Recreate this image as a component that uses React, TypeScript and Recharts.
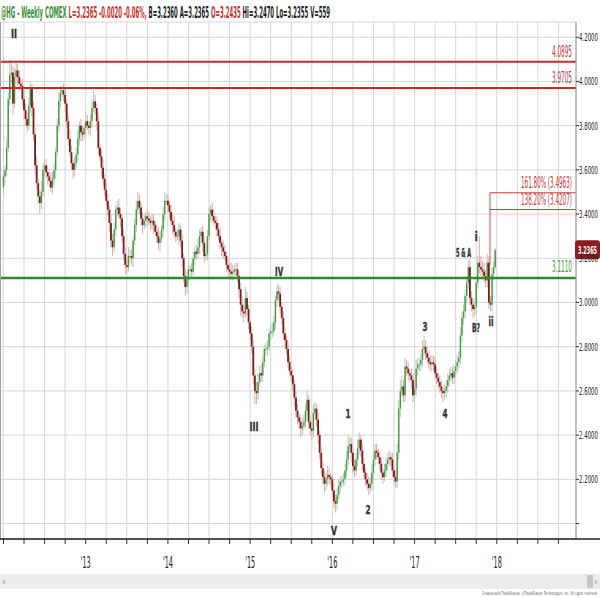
import React from 'react';
import { ComposedChart, Bar, XAxis, YAxis, CartesianGrid, ReferenceLine, Scatter } from 'recharts';

// ---- Weekly closes, one array per year ----
const closes2012 = [
  3.57, 3.60, 3.70, 3.92, 4.03, 4.04, 3.90, 4.02, 4.05, 4.02,
  3.99, 3.98, 3.92, 3.87, 3.83, 3.80, 3.89, 3.97, 3.88, 3.76,
  3.62, 3.54, 3.48, 3.45, 3.50, 3.60, 3.62, 3.59, 3.57, 3.55,
  3.52, 3.56, 3.60, 3.68, 3.80, 3.91, 3.95, 3.96, 3.94, 3.90,
  3.82, 3.74, 3.68, 3.63, 3.60, 3.63, 3.67, 3.74, 3.80, 3.77,
  3.76, 3.79,
];
const closes2013 = [
  3.82, 3.80, 3.79, 3.82, 3.88, 3.91, 3.88, 3.82, 3.70, 3.66,
  3.61, 3.56, 3.51, 3.46, 3.42, 3.36, 3.28, 3.25, 3.33, 3.42,
  3.43, 3.40, 3.38, 3.30, 3.22, 3.17, 3.16, 3.21, 3.21, 3.20,
  3.28, 3.35, 3.42, 3.46, 3.43, 3.38, 3.35, 3.37, 3.39, 3.38,
  3.37, 3.36, 3.37, 3.35, 3.32, 3.30, 3.27, 3.29, 3.33, 3.40,
  3.46, 3.46,
];
const closes2014 = [
  3.44, 3.41, 3.37, 3.35, 3.32, 3.30, 3.30, 3.33, 3.28, 3.20,
  3.12, 3.07, 3.10, 3.15, 3.15, 3.14, 3.20, 3.23, 3.22, 3.25,
  3.30, 3.32, 3.27, 3.21, 3.22, 3.30, 3.40, 3.42, 3.39, 3.37,
  3.36, 3.33, 3.30, 3.27, 3.25, 3.23, 3.21, 3.17, 3.15, 3.14,
  3.13, 3.14, 3.15, 3.15, 3.12, 3.06, 2.99, 2.96, 2.95, 3.02,
  2.97, 2.91,
];
const closes2015 = [
  2.86, 2.80, 2.67, 2.60, 2.59, 2.64, 2.68, 2.67, 2.73, 2.79,
  2.79, 2.80, 2.86, 2.87, 2.87, 2.91, 3.01, 3.05, 3.04, 2.98,
  2.93, 2.86, 2.83, 2.79, 2.73, 2.69, 2.67, 2.63, 2.57, 2.51,
  2.48, 2.46, 2.43, 2.44, 2.46, 2.51, 2.56, 2.46, 2.43, 2.42,
  2.50, 2.52, 2.47, 2.40, 2.32, 2.25, 2.21, 2.18, 2.20, 2.22,
  2.21, 2.20,
];
const closes2016 = [
  2.15, 2.10, 2.09, 2.13, 2.17, 2.19, 2.19, 2.20, 2.24, 2.29,
  2.35, 2.36, 2.32, 2.26, 2.24, 2.29, 2.34, 2.38, 2.33, 2.27,
  2.23, 2.20, 2.18, 2.16, 2.18, 2.23, 2.29, 2.33, 2.32, 2.30,
  2.27, 2.23, 2.21, 2.24, 2.27, 2.29, 2.30, 2.29, 2.24, 2.21,
  2.19, 2.32, 2.52, 2.60, 2.62, 2.58, 2.71, 2.70, 2.68, 2.67,
  2.65, 2.58,
];
const closes2017 = [
  2.61, 2.70, 2.72, 2.72, 2.74, 2.79, 2.80, 2.77, 2.75, 2.73,
  2.72, 2.73, 2.72, 2.68, 2.66, 2.64, 2.62, 2.60, 2.59, 2.60,
  2.62, 2.65, 2.67, 2.68, 2.66, 2.69, 2.71, 2.73, 2.75, 2.85,
  2.93, 2.96, 3.03, 3.09, 3.16, 3.02, 2.99, 2.97, 2.98, 3.09,
  3.18, 3.16, 3.15, 3.14, 3.12, 3.10, 3.18, 3.00, 2.99, 3.13,
  3.16, 3.2365,
];
const firstOpen = 3.52;

// ---- wick lengths above / below the body, in hundredths ----
const upperWicks2012 = [3,2,4,3,7,5,3,4,4,3, 3,2,3,4,3,3,4,3,2,3, 3,4,2,3,5,3,2,3,3,2, 4,3,3,2,3,4,3,2,3,3, 2,3,4,3,2,3,3,4,2,3, 3,2];
const lowerWicks2012 = [3,4,3,2,3,4,5,2,3,4, 3,2,3,4,3,3,2,3,4,3, 4,3,3,5,3,2,3,3,4,3, 2,3,3,4,2,3,3,2,3,4, 3,3,2,3,4,3,2,3,3,4, 3,2];
const upperWicks2013 = [4,3,2,3,4,5,3,2,3,2, 3,4,2,3,3,2,4,3,3,2, 3,4,3,2,3,3,2,4,3,3, 2,3,4,4,3,2,3,3,2,3, 3,2,3,3,2,3,4,3,2,3, 4,3];
const lowerWicks2013 = [3,2,3,4,3,2,3,4,3,2, 4,3,3,2,3,4,3,4,2,3, 3,2,4,3,3,4,3,2,3,3, 4,2,3,2,3,3,4,2,3,3, 2,3,3,4,2,3,3,4,2,3, 3,2];
const upperWicks2014 = [3,2,3,3,4,2,3,3,2,3, 2,3,4,3,2,3,3,2,3,4, 3,2,3,3,4,3,3,2,3,3, 2,3,3,4,2,3,3,2,3,3, 4,3,2,3,3,2,3,4,3,5, 3,2];
const lowerWicks2014 = [3,3,2,4,3,3,2,4,3,4, 3,4,3,2,3,3,2,3,3,2, 3,3,4,3,2,3,2,3,3,2, 3,3,2,3,4,3,2,3,3,4, 3,3,2,3,3,4,5,3,4,2, 3,3];
const upperWicks2015 = [2,3,3,3,4,4,3,4,3,2, 3,3,2,3,4,3,2,3,3,3, 2,3,3,2,3,3,2,3,2,3, 3,2,3,4,3,3,4,2,3,3, 4,3,2,3,2,3,3,3,3,4, 3,2];
const lowerWicks2015 = [3,3,4,6,5,3,2,3,3,2, 3,3,2,3,3,2,3,3,3,3, 3,3,4,3,3,2,3,3,4,3, 3,3,4,3,2,3,3,3,3,4, 3,3,3,4,3,3,3,4,3,3, 3,3];
const upperWicks2016 = [2,3,3,3,3,2,3,3,3,4, 5,3,3,2,3,3,4,3,2,3, 3,2,3,3,3,4,3,3,3,2, 3,3,2,3,3,3,3,2,3,3, 3,4,4,5,5,3,4,3,3,2, 3,3];
const lowerWicks2016 = [3,3,4,3,2,3,3,2,3,3, 3,3,4,3,3,2,3,3,3,3, 3,3,3,3,2,3,3,3,3,3, 3,3,3,2,3,3,3,3,3,3, 3,3,3,4,3,3,3,3,3,3, 4,3];
const upperWicks2017 = [3,4,3,3,3,4,5,3,3,3, 3,3,3,3,3,2,3,3,2,3, 3,3,3,3,3,3,3,3,3,4, 3,3,3,3,3,4,3,3,3,3, 3,12,5,4,4,3,4,3,3,3, 3,1];
const lowerWicks2017 = [3,3,3,3,3,3,3,3,3,3, 3,3,3,3,3,3,3,3,4,3, 3,3,3,3,3,3,3,3,3,3, 3,3,3,3,3,3,3,4,3,3, 3,3,3,3,3,3,3,3,3,3, 3,1];

// ---- axes ----
const weekDomain = [-2.2, 362.1];
const priceDomain = [1.93, 4.269];
const quarterTickWeeks = [0, 13, 26, 39, 52, 65, 78, 91, 104, 117, 130, 143, 156, 169, 182, 195, 208, 221, 234, 247, 260, 273, 286, 299, 312, 325, 338, 351];
const yearTickWeeks = [52, 104, 156, 208, 260, 312];
const yearTickLabels = ["'13", "'14", "'15", "'16", "'17", "'18"];
const priceTicks = [2.0, 2.2, 2.4, 2.6, 2.8, 3.0, 3.2, 3.4, 3.6, 3.8, 4.0, 4.2];
const priceTickLabels = ['', '2.2000', '2.4000', '2.6000', '2.8000', '3.0000', '3.2000', '3.4000', '3.6000', '3.8000', '4.0000', '4.2000'];

// ---- levels & annotations ----
const redLevels = [4.0895, 3.9705];
const redLevelLabels = ['4.0895', '3.9705'];
const greenLevel = 3.111;
const greenLevelLabel = '3.1110';
const fibLevels = [3.4963, 3.4207];
const fibLabels = ['161.80% (3.4963)', '138.20% (3.4207)'];
const fibAnchorWeek = 307.7;
const fibAnchorLow = 3.17;
const lastPrice = 3.2365;
const lastPriceLabel = '3.2365';

const waveTexts = ['II', 'III', 'IV', 'V', '1', '2', '3', '4', '5 & A', 'i', 'B?', 'ii'];
const waveWeeks = [6.6, 158.4, 174.3, 209.0, 217.9, 230.5, 266.6, 279.3, 291.0, 299.0, 298.9, 308.3];
const wavePrices = [4.219, 2.441, 3.142, 1.971, 2.5, 2.066, 2.894, 2.5, 3.228, 3.301, 2.889, 2.916];

const quoteSymbol = '@HG - Weekly COMEX';
const quoteLast = ' L=3.2365 -0.0020 -0.06%,';
const quoteBidAsk = ' B=3.2360 A=3.2365';
const quoteOpen = ' O=3.2435';
const quoteRest = ' Hi=3.2470 Lo=3.2355 V=559';
const creditText = 'Created with TradeStation. \u00A9TradeStation Technologies, Inc. All rights reserved.';

// ---- build table ----
const allCloses = [...closes2012, ...closes2013, ...closes2014, ...closes2015, ...closes2016, ...closes2017];
const allUpper = [...upperWicks2012, ...upperWicks2013, ...upperWicks2014, ...upperWicks2015, ...upperWicks2016, ...upperWicks2017];
const allLower = [...lowerWicks2012, ...lowerWicks2013, ...lowerWicks2014, ...lowerWicks2015, ...lowerWicks2016, ...lowerWicks2017];

const candles = allCloses.map((c, i) => {
  const o = i === 0 ? firstOpen : allCloses[i - 1];
  const h = Math.max(o, c) + (allUpper[i] ?? 3) / 100;
  const l = Math.min(o, c) - (allLower[i] ?? 3) / 100;
  return { w: i, o, c, h, l, range: [l, h] };
});

const waveData = waveTexts.map((t, i) => ({ w: waveWeeks[i], p: wavePrices[i], t }));
const lastPriceData = [{ w: weekDomain[1], p: lastPrice }];

const NARROW = "'Liberation Sans Narrow','Arial Narrow','DejaVu Sans Condensed','Liberation Sans',sans-serif";

const Candle = (props: any) => {
  const { x, y, width, height, payload } = props;
  if (!payload || x == null || y == null) return null;
  const top = Math.min(y, y + height);
  const hh = Math.abs(height);
  const { o, c, h, l } = payload;
  const k = hh / (h - l);
  const cx = x + width / 2;
  const up = c >= o;
  const yTop = top + (h - Math.max(o, c)) * k;
  const yBot = top + (h - Math.min(o, c)) * k;
  const bw = up ? 1.4 : 1.8;
  return (
    <g>
      <line x1={cx} x2={cx} y1={top} y2={top + hh} stroke={up ? '#b7c9b7' : '#e2aaaa'} strokeWidth={1} />
      <rect x={cx - bw / 2} width={bw} y={yTop} height={Math.max(1, yBot - yTop)} fill={up ? '#3f9a3f' : '#761d1d'} />
    </g>
  );
};

const WaveLabel = (props: any) => {
  const { cx, cy, payload } = props;
  if (cx == null || !payload) return null;
  const widths: Record<string, number> = { 'II': 6, 'III': 9, 'IV': 8, 'V': 6, '1': 5, '2': 5, '3': 5, '4': 5, '5 & A': 15, 'i': 3, 'B?': 8, 'ii': 5 };
  return (
    <g opacity={0.99}>
      <text x={cx} y={cy + 5} textAnchor="middle" fontSize={13} fontWeight="bold" fontFamily={NARROW} fill="#2e2e2e"
        stroke="#2e2e2e" strokeWidth={0.4}
        textLength={widths[payload.t] ?? 6} lengthAdjust="spacingAndGlyphs">{payload.t}</text>
    </g>
  );
};

const PriceBox = (props: any) => {
  const { cx, cy } = props;
  if (cx == null) return null;
  return (
    <g>
      <rect x={cx - 1} y={cy - 10} width={25} height={19} rx={3} fill="#8a1d1d" />
      <text x={cx + 2} y={cy + 4} fontSize={11} fontFamily={NARROW} fontWeight="bold" fill="#fff"
        textLength={19} lengthAdjust="spacingAndGlyphs">{lastPriceLabel}</text>
    </g>
  );
};

const LevelLabel = (props: any) => {
  const { viewBox, text, color, len, dy } = props;
  if (!viewBox) return null;
  return (
    <text x={viewBox.x + viewBox.width - 4} y={viewBox.y - (dy ?? 6)} textAnchor="end" fontSize={15} fontFamily={NARROW}
      fill={color} textLength={len} lengthAdjust="spacingAndGlyphs">{text}</text>
  );
};

const XTick = (props: any) => {
  const { x, y, payload } = props;
  const yi = yearTickWeeks.indexOf(payload.value);
  return (
    <g>
      <line x1={x} x2={x} y1={y} y2={y + 5} stroke="#333" strokeWidth={1} />
      {yi >= 0 && (
        <text x={x} y={y + 29} textAnchor="middle" fontSize={16} fontFamily={NARROW} fill="#222"
          textLength={10} lengthAdjust="spacingAndGlyphs">{yearTickLabels[yi]}</text>
      )}
    </g>
  );
};

const YTick = (props: any) => {
  const { x, y, payload } = props;
  const idx = priceTicks.findIndex((v) => Math.abs(v - payload.value) < 1e-6);
  const label = idx >= 0 ? priceTickLabels[idx] : '';
  return (
    <g>
      <line x1={x} x2={x + 3} y1={y} y2={y} stroke="#333" strokeWidth={1} />
      {label && (
        <text x={x + 3} y={y + 4} fontSize={11} fontFamily={NARROW} fill="#222"
          textLength={19} lengthAdjust="spacingAndGlyphs">{label}</text>
      )}
    </g>
  );
};

export default function App() {
  return (
    <div style={{ position: 'relative', width: 600, height: 597, background: '#fff' }}>
      <style>{'body{margin:0;background:#fff}'}</style>
      <ComposedChart width={600} height={597} data={candles} margin={{ top: 22, right: 0, bottom: 28, left: 0 }}>
        <CartesianGrid stroke="#d6d6d6" strokeWidth={1} />
        <XAxis type="number" dataKey="w" domain={weekDomain} ticks={quarterTickWeeks} interval={0}
          height={30} tickSize={0} tickMargin={0} tickLine={false} axisLine={false} tick={<XTick />} />
        <YAxis orientation="right" type="number" domain={priceDomain} ticks={priceTicks} interval={0}
          width={24} tickSize={0} tickMargin={0} tickLine={false} axisLine={{ stroke: '#9a9a9a' }} tick={<YTick />} />
        {redLevels.map((v, i) => (
          <ReferenceLine key={'r' + i} y={v} stroke="#c42a2a" strokeWidth={2}
            label={<LevelLabel text={redLevelLabels[i]} color="#c43a3a" len={20} dy={5} />} />
        ))}
        <ReferenceLine y={greenLevel} stroke="#2f8a2f" strokeWidth={2.5}
          label={<LevelLabel text={greenLevelLabel} color="#3a9a3a" len={20} dy={6} />} />
        {fibLevels.map((v, i) => (
          <ReferenceLine key={'f' + i} segment={[{ x: fibAnchorWeek, y: v }, { x: weekDomain[1], y: v }]}
            stroke="#c83a3a" strokeWidth={1}
            label={<LevelLabel text={fibLabels[i]} color="#c43a3a" len={51} dy={5} />} />
        ))}
        <ReferenceLine segment={[{ x: fibAnchorWeek, y: fibLevels[0] }, { x: fibAnchorWeek, y: fibAnchorLow }]}
          stroke="#d05050" strokeWidth={1} />
        <Bar dataKey="range" barSize={2} shape={<Candle />} isAnimationActive={false} />
        <Scatter data={waveData} dataKey="p" shape={<WaveLabel />} isAnimationActive={false} />
        <Scatter data={lastPriceData} dataKey="p" shape={<PriceBox />} isAnimationActive={false} />
      </ComposedChart>
      <svg width={600} height={597} style={{ position: 'absolute', left: 0, top: 0, pointerEvents: 'none' }}>
        <text x={1} y={18} fontSize={15} fontWeight="bold" fontFamily={NARROW}
          textLength={329} lengthAdjust="spacingAndGlyphs">
          <tspan fill="#3a8f3a">{quoteSymbol}</tspan>
          <tspan fill="#c8312f">{quoteLast}</tspan>
          <tspan fill="#1e1e1e">{quoteBidAsk}</tspan>
          <tspan fill="#c8312f">{quoteOpen}</tspan>
          <tspan fill="#1e1e1e">{quoteRest}</tspan>
        </text>
        <line x1={0.5} x2={0.5} y1={22} y2={539} stroke="#a0a0a0" strokeWidth={1} />
        <line x1={0} x2={600} y1={539} y2={539} stroke="#1e1e1e" strokeWidth={1.5} />
        <rect x={0} y={574} width={600} height={15} fill="#ececec" />
        <text x={2} y={585} fontSize={10} fill="#8a8a8a" fontFamily={NARROW}>{'\u2039'}</text>
        <rect x={587} y={575} width={6} height={13} fill="#c6c6c6" />
        <text x={594} y={585} fontSize={10} fill="#8a8a8a" fontFamily={NARROW}>{'\u203A'}</text>
        <text x={598} y={595} textAnchor="end" fontSize={5} fill="#555" fontFamily={NARROW}
          textLength={116} lengthAdjust="spacingAndGlyphs">{creditText}</text>
      </svg>
    </div>
  );
}
